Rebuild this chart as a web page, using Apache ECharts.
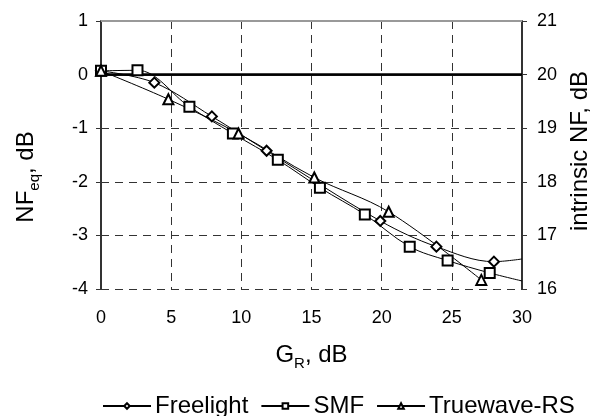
<!DOCTYPE html>
<html>
<head>
<meta charset="utf-8">
<script src="https://cdn.jsdelivr.net/npm/echarts@6/dist/echarts.min.js"></script>
<style>
  html, body { margin: 0; background: #fff; }
  #chart { width: 593px; height: 416px; }
</style>
</head>
<body>
<div id="chart"></div>
<script>
// values: [G_R dB, NF_eq dB]
const freelight = [[0, 0.07], [3.8, -0.15], [7.9, -0.78], [11.8, -1.42], [19.9, -2.73], [23.9, -3.21], [28.0, -3.49]];
const freelightEnd = [30, -3.44];   // curve runs on past the last marker
const smf = [[0, 0.07], [2.6, 0.08], [6.3, -0.60], [9.4, -1.10], [12.6, -1.59], [15.6, -2.11], [18.8, -2.61], [22.0, -3.21], [24.7, -3.47], [27.7, -3.70]];
const smfEnd = [30, -3.85];
const truewave = [[0, 0.07], [4.8, -0.46], [9.8, -1.10], [15.2, -1.92], [20.5, -2.56], [27.1, -3.83]];

const xTicks = [0, 5, 10, 15, 20, 25, 30];
const leftRange = [-4, 1];
const rightRange = [16, 21];

const FONT = 'Liberation Sans, Arial, sans-serif';
const chart = echarts.init(document.getElementById('chart'));

function mkSeries(name, pts, end, symbol, size) {
    const data = pts.map(p => p.slice());
    if (end) data.push({ value: end, symbol: 'none' });
    return {
        name: name,
        type: 'line',
        smooth: 0.35,
        data: data,
        symbol: symbol,
        symbolSize: size,
        showAllSymbol: true,
        lineStyle: { color: '#000', width: 1 },
        itemStyle: { color: '#fff', borderColor: '#000', borderWidth: 2 },
        z: 5
    };
}

const series = [
    mkSeries('Freelight', freelight, freelightEnd, 'diamond', 10),
    mkSeries('SMF', smf, smfEnd, 'rect', 10),
    mkSeries('Truewave-RS', truewave, null, 'triangle', 10)
];
// zero line and top border
series[0].markLine = {
    silent: true, symbol: 'none', label: { show: false },
    data: [
        { yAxis: 0, lineStyle: { color: '#000', width: 2.5, type: 'solid' } },
        { yAxis: 1, lineStyle: { color: '#999', width: 2, type: 'solid' } }
    ]
};

const titleRich = {
    a: { fontSize: 24, fontFamily: FONT, color: '#000', lineHeight: 28, verticalAlign: 'bottom' },
    s: { fontSize: 15, fontFamily: FONT, color: '#000', lineHeight: 28, verticalAlign: 'bottom', padding: [0, 0, -4, 0] }
};

chart.setOption({
    animation: false,
    backgroundColor: '#fff',
    textStyle: { fontFamily: FONT },
    grid: { left: 101, right: 71, top: 21, bottom: 127, containLabel: false, outerBoundsMode: 'none' },
    legend: {
        top: 389,
        left: 97,
        itemWidth: 48,
        itemHeight: 7,
        itemGap: 12,
        textStyle: { fontSize: 24, color: '#000', fontFamily: FONT, padding: [0, 0, 0, -1] },
        data: ['Freelight', 'SMF', 'Truewave-RS']
    },
    xAxis: {
        type: 'value',
        min: xTicks[0], max: xTicks[xTicks.length - 1], interval: 5,
        name: '{a|G}{s|R}{a|, dB}',
        nameLocation: 'middle',
        nameGap: 50,
        nameTextStyle: { rich: titleRich },
        axisLine: { lineStyle: { color: '#333', width: 2 } },
        axisTick: { show: true, inside: false, length: 5, lineStyle: { color: '#333', width: 1 } },
        axisLabel: { fontSize: 18, color: '#000', margin: 20 },
        splitLine: { show: true, lineStyle: { color: '#333', type: [8, 6], width: 1 } }
    },
    yAxis: [
        {
            type: 'value',
            min: leftRange[0], max: leftRange[1], interval: 1,
            name: '{a|NF}{s|eq}{a|, dB}',
            nameLocation: 'middle',
            nameGap: 63,
            nameRotate: 90,
            // title sits a little below the plot middle in the reference
            nameTextStyle: { rich: titleRich, padding: [0, 44, 0, 0] },
            axisLine: { show: true, lineStyle: { color: '#333', width: 2 } },
            axisTick: { show: true, inside: false, length: 5, lineStyle: { color: '#333', width: 1 } },
            axisLabel: { fontSize: 18, color: '#000', margin: 13 },
            splitLine: { show: true, lineStyle: { color: '#333', type: [8, 6], width: 1 } }
        },
        {
            type: 'value',
            position: 'right',
            min: rightRange[0], max: rightRange[1], interval: 1,
            name: 'intrinsic NF, dB',
            nameLocation: 'middle',
            nameGap: 46,
            nameRotate: 90,
            nameTextStyle: { fontSize: 24, color: '#000', fontFamily: FONT, padding: [0, 0, 0, 8] },
            axisLine: { show: true, lineStyle: { color: '#333', width: 2 } },
            axisTick: { show: true, inside: false, length: 5, lineStyle: { color: '#333', width: 1 } },
            axisLabel: { fontSize: 18, color: '#000', margin: 15 },
            splitLine: { show: false }
        }
    ],
    series: series
});
</script>
</body>
</html>
